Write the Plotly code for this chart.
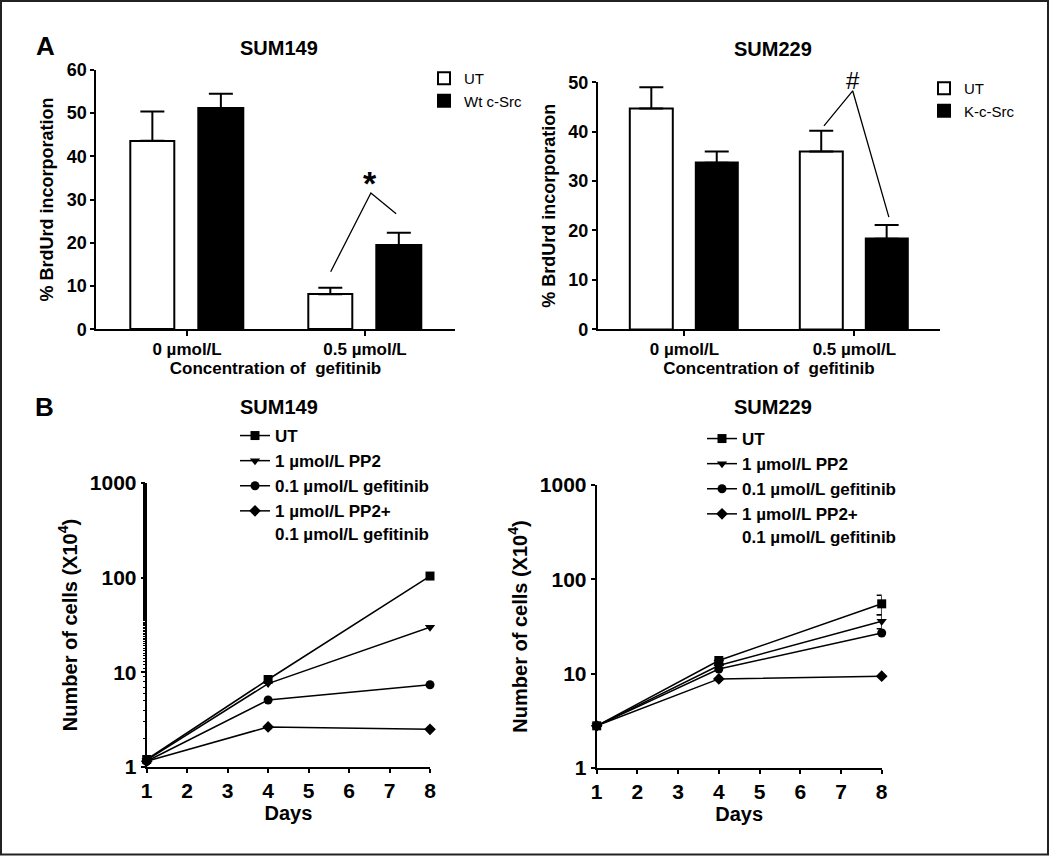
import plotly.graph_objects as go

# ---------------- data ----------------
conc_labels = ["0 µmol/L", "0.5 µmol/L"]

sum149_ut = [43.6, 8.1]
sum149_ut_err = [6.8, 1.5]
sum149_wt = [51.2, 19.4]
sum149_wt_err = [3.3, 2.9]

sum229_ut = [44.7, 36.0]
sum229_ut_err = [4.3, 4.2]
sum229_k = [33.7, 18.3]
sum229_k_err = [2.3, 2.8]

days = [1, 4, 8]
growth_names = ["UT", "1 µmol/L PP2", "0.1 µmol/L gefitinib",
                "1 µmol/L PP2+<br>0.1 µmol/L gefitinib"]
growth_symbols = ["square", "triangle-down", "circle", "diamond"]
s149_ut = [1.20, 8.4, 104]
s149_pp2 = [1.18, 7.6, 30]
s149_gef = [1.15, 5.1, 7.4]
s149_combo = [1.15, 2.65, 2.5]
s229_ut = [2.8, 13.8, 55]
s229_ut_err = [0, 0, 13]
s229_pp2 = [2.8, 12.2, 36]
s229_pp2_err = [0, 0, 6]
s229_gef = [2.8, 11.2, 27]
s229_combo = [2.8, 8.8, 9.4]

# significance brackets (annotation geometry, data units)
star_bracket_x = [0.807, 1.033, 1.175]
star_bracket_y = [13.3, 31.5, 26.7]
hash_bracket_x = [0.821, 0.990, 1.203]
hash_bracket_y = [41.2, 48.3, 22.7]

# ---------------- style ----------------
FONT = "Liberation Sans, Arial, sans-serif"
BLACK = "black"
W, H = 1050, 856


def px_x(p):
    return p / W


def px_y(p):
    return 1 - p / H


fig = go.Figure()

# ---------------- Panel A bar charts ----------------
grp = list(range(len(conc_labels)))
bar_w = 0.25


def add_bars(xa, ya, ut, ut_err, tr, tr_err, tr_name, legend):
    fig.add_trace(go.Bar(
        x=grp, y=ut, width=bar_w, offset=-0.32, name="UT",
        marker=dict(color="white", line=dict(color=BLACK, width=2)),
        error_y=dict(type="data", array=ut_err, arrayminus=[0] * len(ut),
                     symmetric=False, color=BLACK, thickness=2, width=12),
        xaxis=xa, yaxis=ya, legend=legend))
    fig.add_trace(go.Bar(
        x=grp, y=tr, width=bar_w, offset=0.065, name=tr_name,
        marker=dict(color=BLACK, line=dict(color=BLACK, width=2)),
        error_y=dict(type="data", array=tr_err, arrayminus=[0] * len(tr),
                     symmetric=False, color=BLACK, thickness=2, width=12),
        xaxis=xa, yaxis=ya, legend=legend))


add_bars("x", "y", sum149_ut, sum149_ut_err, sum149_wt, sum149_wt_err,
         "Wt c-Src", "legend3")
add_bars("x2", "y2", sum229_ut, sum229_ut_err, sum229_k, sum229_k_err,
         "K-c-Src", "legend4")

fig.add_trace(go.Scatter(x=star_bracket_x, y=star_bracket_y, mode="lines",
                         line=dict(color=BLACK, width=1.3), showlegend=False,
                         xaxis="x", yaxis="y", cliponaxis=False))
fig.add_trace(go.Scatter(x=hash_bracket_x, y=hash_bracket_y, mode="lines",
                         line=dict(color=BLACK, width=1.3), showlegend=False,
                         xaxis="x2", yaxis="y2", cliponaxis=False))

# ---------------- Panel B growth curves ----------------
s149 = [s149_ut, s149_pp2, s149_gef, s149_combo]
s229 = [s229_ut, s229_pp2, s229_gef, s229_combo]
s229_err = [s229_ut_err, s229_pp2_err, None, None]

for i, name in enumerate(growth_names):
    fig.add_trace(go.Scatter(
        x=days, y=s149[i], mode="lines+markers", name=name,
        line=dict(color=BLACK, width=1.5),
        marker=dict(symbol=growth_symbols[i], size=9, color=BLACK),
        xaxis="x3", yaxis="y3", legend="legend", cliponaxis=False))
for i, name in enumerate(growth_names):
    err = None
    if s229_err[i] is not None:
        err = dict(type="data", array=s229_err[i], color=BLACK,
                   thickness=1.5, width=5)
    fig.add_trace(go.Scatter(
        x=days, y=s229[i], mode="lines+markers", name=name,
        line=dict(color=BLACK, width=1.5),
        marker=dict(symbol=growth_symbols[i], size=9, color=BLACK),
        error_y=err,
        xaxis="x4", yaxis="y4", legend="legend2", cliponaxis=False))

# ---------------- axes ----------------
bar_x = dict(tickmode="array", tickvals=grp, ticktext=conc_labels,
             range=[-0.51, 1.504], showline=True, linecolor=BLACK, linewidth=2,
             ticks="outside", ticklen=5, tickwidth=1.5, tickcolor=BLACK,
             showgrid=False, zeroline=False, automargin=False,
             ticklabelstandoff=-2,
             tickfont=dict(family=FONT, size=17, color=BLACK, weight="bold"),
             title=dict(text="Concentration of\u00a0 gefitinib", standoff=2,
                        font=dict(family=FONT, size=17, color=BLACK, weight="bold")))
bar_y = dict(showline=True, linecolor=BLACK, linewidth=2, ticks="outside",
             ticklen=4, tickwidth=1.5, tickcolor=BLACK, showgrid=False,
             zeroline=False, dtick=10, automargin=False,
             tickfont=dict(family=FONT, size=18, color=BLACK, weight="bold"),
             title=dict(text="% BrdUrd incorporation", standoff=8,
                        font=dict(family=FONT, size=18, color=BLACK, weight="bold")))

fig.update_layout(
    xaxis=dict(bar_x, domain=[px_x(96.3), px_x(454.7)], anchor="y"),
    yaxis=dict(bar_y, domain=[px_y(329.2), px_y(69.9)], range=[0, 60], anchor="x"),
    xaxis2=dict(bar_x, domain=[px_x(597.8), px_x(940)], anchor="y2"),
    yaxis2=dict(bar_y, domain=[px_y(329.2), px_y(82.4)], range=[0, 50], anchor="x2"),
)

line_x = dict(range=[1, 8], dtick=1, showline=True, linecolor=BLACK, linewidth=2,
              ticks="outside", ticklen=4, tickwidth=1.5, tickcolor=BLACK,
              showgrid=False, zeroline=False, automargin=False,
              tickfont=dict(family=FONT, size=21, color=BLACK, weight="bold"),
              title=dict(text="Days", standoff=2,
                         font=dict(family=FONT, size=20, color=BLACK, weight="bold")))
line_y = dict(type="log", range=[0, 3], tickvals=[1, 10, 100, 1000],
              ticktext=["1", "10", "100", "1000"],
              showline=True, linecolor=BLACK, linewidth=2, ticks="outside",
              ticklen=4, tickwidth=1.5, tickcolor=BLACK, showgrid=False,
              zeroline=False, automargin=False,
              tickfont=dict(family=FONT, size=21, color=BLACK, weight="bold"),
              title=dict(text="Number of cells (X10<sup>4</sup>)", standoff=7,
                         font=dict(family=FONT, size=20, color=BLACK, weight="bold")))

fig.update_layout(
    xaxis3=dict(line_x, domain=[px_x(146.7), px_x(430)], anchor="y3"),
    yaxis3=dict(line_y, domain=[px_y(767), px_y(483)], anchor="x3",
                minor=dict(ticks="outside", ticklen=2, tickcolor=BLACK,
                           tickwidth=0.8, showgrid=False)),
    xaxis4=dict(line_x, domain=[px_x(596.7), px_x(881.7)], anchor="y4"),
    yaxis4=dict(line_y, domain=[px_y(768), px_y(485)], anchor="x4"),
)

# ---------------- legends ----------------
leg_bold = dict(family=FONT, size=17, color=BLACK, weight="bold")
leg_norm = dict(family=FONT, size=15, color=BLACK)
fig.update_layout(
    legend=dict(x=px_x(235), y=px_y(418), xanchor="left", yanchor="top",
                font=leg_bold, bgcolor="rgba(0,0,0,0)", itemwidth=30,
                valign="top", tracegroupgap=0),
    legend2=dict(x=px_x(702), y=px_y(421), xanchor="left", yanchor="top",
                 font=leg_bold, bgcolor="rgba(0,0,0,0)", itemwidth=30,
                 valign="top", tracegroupgap=0),
    legend3=dict(x=px_x(424), y=px_y(62), xanchor="left", yanchor="top",
                 font=leg_norm, bgcolor="rgba(0,0,0,0)", itemwidth=30,
                 tracegroupgap=0),
    legend4=dict(x=px_x(924), y=px_y(72), xanchor="left", yanchor="top",
                 font=leg_norm, bgcolor="rgba(0,0,0,0)", itemwidth=30,
                 tracegroupgap=0),
)

# ---------------- titles / labels ----------------
ann = []


def label(text, x, y, size, weight="bold", family=FONT):
    ann.append(dict(text=text, x=px_x(x), y=px_y(y), xref="paper", yref="paper",
                    xanchor="center", yanchor="middle", showarrow=False,
                    font=dict(family=family, size=size, color=BLACK, weight=weight)))


label("A", 45.5, 45.5, 26)
label("B", 44, 407, 26)
label("SUM149", 278.5, 48, 20)
label("SUM229", 773, 49, 20)
label("SUM149", 278.5, 407, 20)
label("SUM229", 773, 407, 20)

ann.append(dict(text="*", x=1.03, y=34.8, xref="x", yref="y", showarrow=False,
                xanchor="center", yanchor="middle", yshift=-4,
                font=dict(family=FONT, size=34, color=BLACK, weight="bold")))
ann.append(dict(text="#", x=hash_bracket_x[1], y=px_y(80), xref="x2", yref="paper",
                showarrow=False, xanchor="center", yanchor="middle",
                font=dict(family=FONT, size=24, color=BLACK)))

fig.update_layout(annotations=ann)

# frame
fig.add_shape(type="rect", xref="paper", yref="paper",
              x0=px_x(1), x1=px_x(1048), y0=px_y(854.5), y1=px_y(1),
              line=dict(color="#222", width=2))

fig.update_layout(width=W, height=H,
                  margin=dict(l=0, r=0, t=0, b=0, pad=0, autoexpand=False),
                  plot_bgcolor="white", paper_bgcolor="white",
                  barmode="overlay", bargap=0)

fig.write_html("out.html", config={"displayModeBar": False},
               post_script="document.body.style.margin='0';"
                           "document.body.style.overflow='hidden';")
